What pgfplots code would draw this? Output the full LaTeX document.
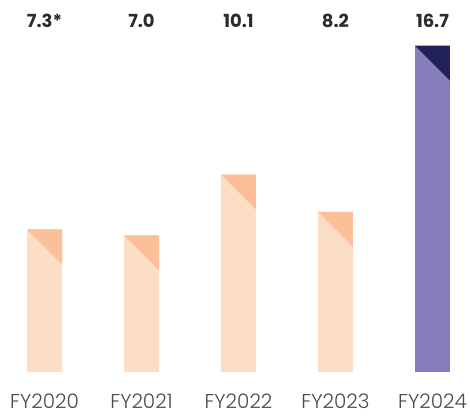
\documentclass[border=0pt]{standalone}
\usepackage{pgfplots}
\pgfplotsset{compat=1.18}
\usepackage{fontspec}
\setmainfont{Poppins}
\newfontfamily\lightfont{Poppins}[UprightFont=* Light]
\definecolor{peach}{HTML}{FCDEC6}
\definecolor{peachdark}{HTML}{FBC098}
\definecolor{purp}{HTML}{867EBA}
\definecolor{navy}{HTML}{23215A}
\definecolor{valtxt}{HTML}{2B2B2B}
\definecolor{labtxt}{HTML}{4A4A4A}
\begin{document}
\begin{tikzpicture}
\begin{axis}[
  scale only axis,
  width=470pt, height=372pt,
  xmin=-0.459, xmax=4.387,
  ymin=0, ymax=19.03,
  clip=false,
  axis line style={draw=none},
  ytick=\empty,
  xtick={0,1,2,3,4},
  xticklabels={FY2020,FY2021,FY2022,FY2023,FY2024},
  major tick length=0pt,
  xticklabel style={anchor=base, yshift=-36pt, font=\lightfont\fontsize{20}{24}\selectfont, text=labtxt, inner sep=0pt},
]
\addplot[ybar, bar width=35pt, bar shift=0pt, fill=peach, draw=none] coordinates {(0,7.3) (1,7.0) (2,10.1) (3,8.2)};
\addplot[ybar, bar width=35pt, bar shift=0pt, fill=purp, draw=none] coordinates {(4,16.7)};
% corner triangles
\addplot[fill=peachdark, draw=none] coordinates {(-0.1804,7.3) (0.1804,7.3) (0.1804,5.51)} -- cycle;
\addplot[fill=peachdark, draw=none] coordinates {(0.8196,7.0) (1.1804,7.0) (1.1804,5.21)} -- cycle;
\addplot[fill=peachdark, draw=none] coordinates {(1.8196,10.1) (2.1804,10.1) (2.1804,8.31)} -- cycle;
\addplot[fill=peachdark, draw=none] coordinates {(2.8196,8.2) (3.1804,8.2) (3.1804,6.41)} -- cycle;
\addplot[fill=navy, draw=none] coordinates {(3.8196,16.7) (4.1804,16.7) (4.1804,14.91)} -- cycle;
% value labels
\begin{scope}[every node/.style={anchor=base, inner sep=0pt, font=\fontsize{18}{21}\selectfont\bfseries, text=valtxt}]
\node at (axis cs:0,17.65) {7.3*};
\node at (axis cs:1,17.65) {7.0};
\node at (axis cs:2,17.65) {10.1};
\node at (axis cs:3,17.65) {8.2};
\node at (axis cs:4,17.65) {16.7};
\end{scope}
\path (rel axis cs:0,0) ++(0,-43pt) coordinate (bb);
\path[draw=none] (bb) circle (0pt);
\end{axis}
\end{tikzpicture}
\end{document}
